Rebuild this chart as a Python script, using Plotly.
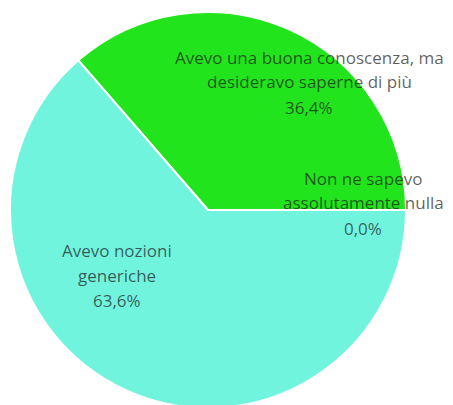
import plotly.graph_objects as go

# answers (counts): 0 / 4 / 7 out of 11
labels = ["Non ne sapevo assolutamente nulla",
          "Avevo una buona conoscenza, ma desideravo saperne di più",
          "Avevo nozioni generiche"]
label_lines = [["Non ne sapevo", "assolutamente nulla"],
               ["Avevo una buona conoscenza, ma", "desideravo saperne di più"],
               ["Avevo nozioni", "generiche"]]
values = [0, 4, 7]
colors = ["#b0b0b0", "#22e41c", "#70f4de"]

W, H = 453, 405
OFF = 8  # page body margin in the browser

# label block positions in page pixels: (center x, first line y)
label_pos = [(363, 178), (309, 57), (117, 250)]
LINE_STEP = 25

total = sum(values)

fig = go.Figure()
fig.add_trace(go.Pie(
    labels=labels,
    values=values,
    sort=False,
    direction="counterclockwise",
    rotation=90,
    marker=dict(colors=colors, line=dict(color="white", width=2)),
    textinfo="none",
    hoverinfo="label+percent",
    # pie centre (208, 210), radius 198 on the page
    domain=dict(x=[(208 - 198 - OFF) / W, (208 + 198 - OFF) / W],
                y=[1 - (210 + 198 - OFF) / H, 1 - (210 - 198 - OFF) / H]),
    showlegend=False,
))

for lines, v, (px, py) in zip(label_lines, values, label_pos):
    pct = f"{100 * v / total:.1f}%".replace(".", ",")
    for i, line in enumerate(lines + [pct]):
        fig.add_annotation(
            x=(px - OFF) / W, y=1 - (py + i * LINE_STEP - OFF) / H,
            xref="paper", yref="paper",
            xanchor="center", yanchor="middle",
            text=line, showarrow=False,
            font=dict(family="Open Sans", size=17, color="rgba(30,30,30,0.72)"),
        )

fig.update_layout(
    width=W, height=H,
    margin=dict(l=0, r=0, t=0, b=0),
    paper_bgcolor="white",
    plot_bgcolor="white",
)

fig.write_html("out.html")
